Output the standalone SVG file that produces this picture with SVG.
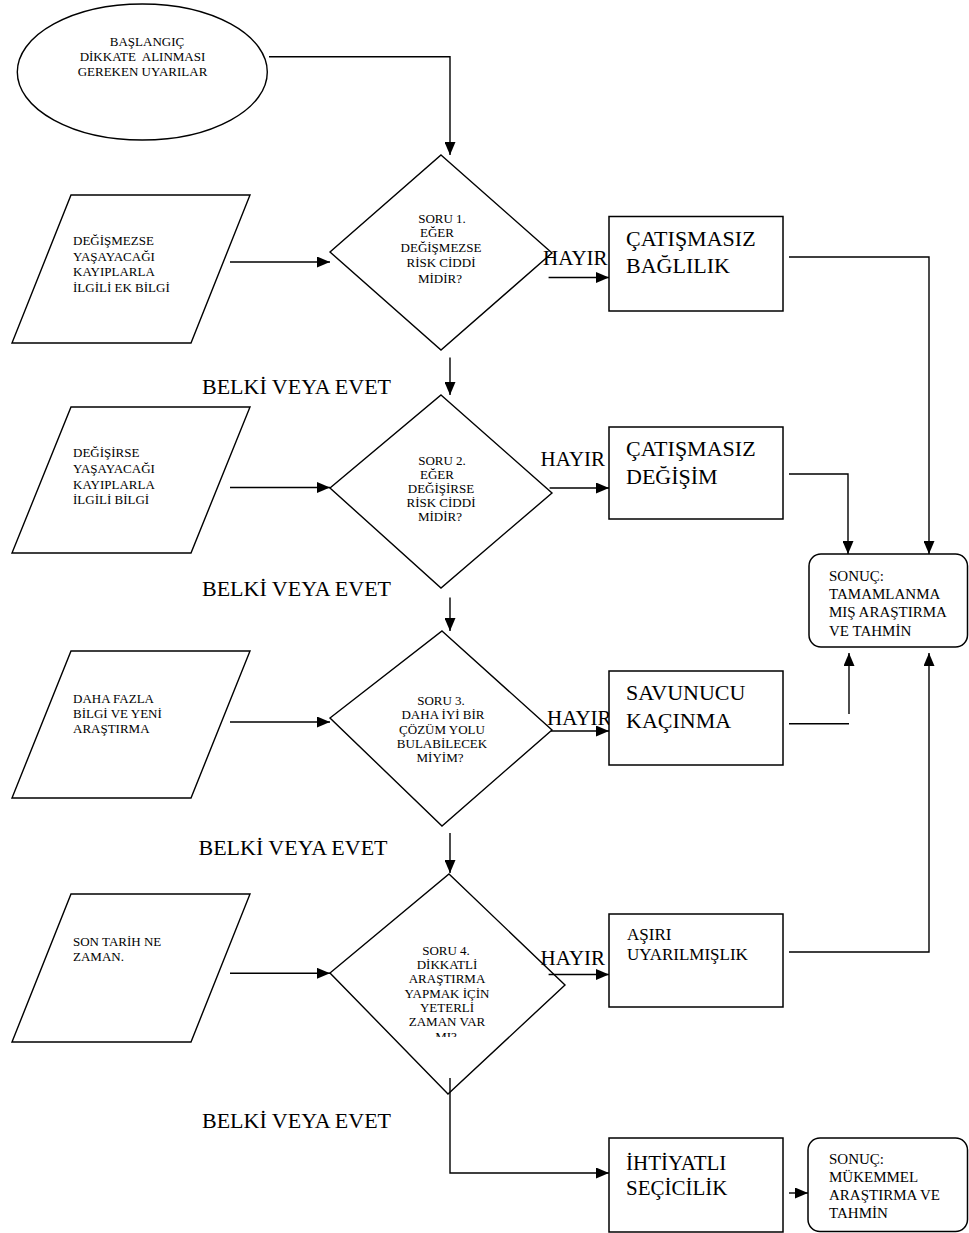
<svg xmlns="http://www.w3.org/2000/svg" width="969" height="1233" viewBox="0 0 969 1233">
<style>
text{font-family:"Liberation Serif","Times New Roman",serif;fill:#000}
.s{font-size:13px}
.m{font-size:15px}
.b{font-size:22px}
.h{font-size:21px}
.c{text-anchor:middle}
.ln{fill:none;stroke:#000;stroke-width:1.4}
.sh{fill:none;stroke:#000;stroke-width:1.4}
.bx{fill:#fff;stroke:#000;stroke-width:1.5}
</style>
<defs>
<marker id="ah" markerUnits="userSpaceOnUse" markerWidth="13" markerHeight="11" refX="13" refY="5.5" orient="auto">
<path d="M0,0 L13,5.5 L0,11 z" fill="#000"/>
</marker>
<clipPath id="d4clip"><rect x="300" y="860" width="300" height="177"/></clipPath>
</defs>
<rect width="969" height="1233" fill="#fff"/>

<g id="connectors">
<path class="ln" d="M269,56.7 H450 V155" marker-end="url(#ah)"/>
<path class="ln" d="M230,262 H330" marker-end="url(#ah)"/>
<path class="ln" d="M548.6,277.5 H609" marker-end="url(#ah)"/>
<path class="ln" d="M450,357.5 V395" marker-end="url(#ah)"/>
<path class="ln" d="M230,487.5 H330" marker-end="url(#ah)"/>
<path class="ln" d="M549.6,488 H609" marker-end="url(#ah)"/>
<path class="ln" d="M450,597.5 V631" marker-end="url(#ah)"/>
<path class="ln" d="M230,722 H330" marker-end="url(#ah)"/>
<path class="ln" d="M551,731 H609" marker-end="url(#ah)"/>
<path class="ln" d="M450,833 V873" marker-end="url(#ah)"/>
<path class="ln" d="M230,973.3 H330" marker-end="url(#ah)"/>
<path class="ln" d="M548.6,974.5 H609" marker-end="url(#ah)"/>
<path class="ln" d="M450,1078 V1173 H609" marker-end="url(#ah)"/>
<path class="ln" d="M789,1193 H808" marker-end="url(#ah)"/>
<path class="ln" d="M789,257 H929 V554" marker-end="url(#ah)"/>
<path class="ln" d="M789,474 H848 V554" marker-end="url(#ah)"/>
<path class="ln" d="M789,723.7 H849"/>
<path class="ln" d="M849,714 V653" marker-end="url(#ah)"/>
<path class="ln" d="M789,952 H929 V653" marker-end="url(#ah)"/>
<text class="h" x="543" y="264.5">HAYIR</text>
<text class="h" x="540.5" y="466">HAYIR</text>
<text class="h" x="547" y="725">HAYIR</text>
<text class="h" x="540.5" y="965">HAYIR</text>
<text class="b" x="202" y="394">BELKİ VEYA EVET</text>
<text class="b" x="202" y="595.5">BELKİ VEYA EVET</text>
<text class="b" x="198.5" y="854.5">BELKİ VEYA EVET</text>
<text class="b" x="202" y="1128">BELKİ VEYA EVET</text>
</g>

<g id="start">
<ellipse class="sh" cx="142.3" cy="72" rx="125" ry="68"/>
<text class="s c" x="147" y="45.5">BAŞLANGIÇ</text>
<text class="s c" x="142.5" y="61" xml:space="preserve">DİKKATE  ALINMASI</text>
<text class="s c" x="142.5" y="76">GEREKEN UYARILAR</text>
</g>

<g id="input1">
<polygon class="sh" points="71,195 250,195 191,343 12,343"/>
<text class="s" x="73" y="245">DEĞİŞMEZSE</text>
<text class="s" x="73" y="260.5">YAŞAYACAĞI</text>
<text class="s" x="73" y="276">KAYIPLARLA</text>
<text class="s" x="73" y="291.5">İLGİLİ EK BİLGİ</text>
</g>

<g id="input2">
<polygon class="sh" points="71,407 250,407 191,553 12,553"/>
<text class="s" x="73" y="457">DEĞİŞİRSE</text>
<text class="s" x="73" y="472.5">YAŞAYACAĞI</text>
<text class="s" x="73" y="488.5">KAYIPLARLA</text>
<text class="s" x="73" y="504">İLGİLİ BİLGİ</text>
</g>

<g id="input3">
<polygon class="sh" points="71,651 250,651 191,798 12,798"/>
<text class="s" x="73" y="703">DAHA FAZLA</text>
<text class="s" x="73" y="717.5">BİLGİ VE YENİ</text>
<text class="s" x="73" y="733">ARAŞTIRMA</text>
</g>

<g id="input4">
<polygon class="sh" points="71,894 250,894 191,1042 12,1042"/>
<text class="s" x="73" y="946">SON TARİH NE</text>
<text class="s" x="73" y="961">ZAMAN.</text>
</g>

<g id="q1">
<polygon class="sh" points="441,155 552,253 441,350 330,252"/>
<text class="s c" x="442" y="223">SORU 1.</text>
<text class="s c" x="437" y="237">EĞER</text>
<text class="s c" x="441" y="252">DEĞİŞMEZSE</text>
<text class="s c" x="441" y="267">RİSK CİDDİ</text>
<text class="s c" x="440" y="282.5">MİDİR?</text>
</g>

<g id="q2">
<polygon class="sh" points="441,395 552,493 441,588 330,488"/>
<text class="s c" x="442" y="465">SORU 2.</text>
<text class="s c" x="437" y="479">EĞER</text>
<text class="s c" x="441" y="493">DEĞİŞİRSE</text>
<text class="s c" x="441" y="507">RİSK CİDDİ</text>
<text class="s c" x="440" y="521">MİDİR?</text>
</g>

<g id="q3">
<polygon class="sh" points="442,631 552,730 442,826 330,718"/>
<text class="s c" x="441" y="704.5">SORU 3.</text>
<text class="s c" x="443" y="719">DAHA İYİ BİR</text>
<text class="s c" x="442" y="733.5">ÇÖZÜM YOLU</text>
<text class="s c" x="442" y="748">BULABİLECEK</text>
<text class="s c" x="440" y="762">MİYİM?</text>
</g>

<g id="q4">
<polygon class="sh" points="449,874 565,985 448,1094 330,973"/>
<g clip-path="url(#d4clip)">
<text class="s c" x="446" y="954.5">SORU 4.</text>
<text class="s c" x="447" y="968.8">DİKKATLİ</text>
<text class="s c" x="447" y="983.1">ARAŞTIRMA</text>
<text class="s c" x="447" y="997.5">YAPMAK İÇİN</text>
<text class="s c" x="447" y="1011.5">YETERLİ</text>
<text class="s c" x="447" y="1026">ZAMAN VAR</text>
<text class="s c" x="446" y="1040.5">MI?</text>
</g>
</g>

<g id="r1">
<rect class="bx" x="609" y="216.5" width="174" height="94.5"/>
<text class="b" x="626" y="245.5">ÇATIŞMASIZ</text>
<text class="b" x="626" y="273">BAĞLILIK</text>
</g>

<g id="r2">
<rect class="bx" x="609" y="427" width="174" height="92"/>
<text class="b" x="626" y="456">ÇATIŞMASIZ</text>
<text class="b" x="626" y="484">DEĞİŞİM</text>
</g>

<g id="r3">
<rect class="bx" x="609" y="671" width="174" height="94"/>
<text class="b" x="626" y="699.5">SAVUNUCU</text>
<text class="b" x="626" y="728">KAÇINMA</text>
</g>

<g id="r4">
<rect class="bx" x="609" y="914" width="174" height="93"/>
<text x="627" y="939.5" style="font-size:17px">AŞIRI</text>
<text x="627" y="959.5" style="font-size:17px">UYARILMIŞLIK</text>
</g>

<g id="r5">
<rect class="bx" x="609" y="1138" width="174" height="94"/>
<text class="h" x="626" y="1170">İHTİYATLI</text>
<text class="h" x="626" y="1194.5">SEÇİCİLİK</text>
</g>

<g id="result1">
<rect class="bx" x="809" y="554" width="158.5" height="93" rx="12"/>
<text class="m" x="829" y="581">SONUÇ:</text>
<text class="m" x="829" y="599">TAMAMLANMA</text>
<text class="m" x="829" y="617">MIŞ ARAŞTIRMA</text>
<text class="m" x="829" y="636">VE TAHMİN</text>
</g>

<g id="result2">
<rect class="bx" x="808" y="1138" width="159.5" height="93.5" rx="12"/>
<text class="m" x="829" y="1164">SONUÇ:</text>
<text class="m" x="829" y="1182">MÜKEMMEL</text>
<text class="m" x="829" y="1200">ARAŞTIRMA VE</text>
<text class="m" x="829" y="1218">TAHMİN</text>
</g>
</svg>
